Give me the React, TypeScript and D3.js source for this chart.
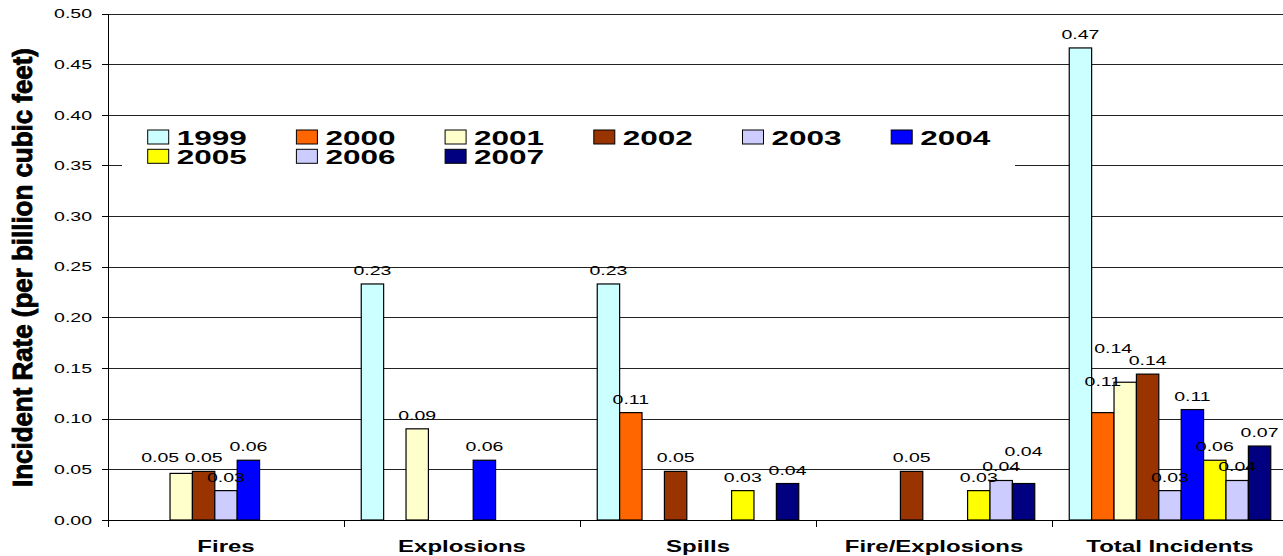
import React from "react";
import * as d3 from "d3";

// Incident categories along the x axis
const categories = ["Fires", "Explosions", "Spills", "Fire/Explosions", "Total Incidents"];

// Reporting years (one bar per year inside each category)
const years = ["1999", "2000", "2001", "2002", "2003", "2004", "2005", "2006", "2007"];

// Incident rate per billion cubic feet, ordered as `categories`; null = no incidents
const rates1999 = [null, 0.233, 0.233, null, 0.466];
const rates2000 = [null, null, 0.106, null, 0.106];
const rates2001 = [0.046, 0.09, null, null, 0.136];
const rates2002 = [0.048, null, 0.048, 0.048, 0.144];
const rates2003 = [0.029, null, null, null, 0.029];
const rates2004 = [0.059, 0.059, null, null, 0.109];
const rates2005 = [null, null, 0.029, 0.029, 0.059];
const rates2006 = [null, null, null, 0.039, 0.039];
const rates2007 = [null, null, 0.036, 0.036, 0.073];

// Y axis tick values
const yTicks = [0, 0.05, 0.1, 0.15, 0.2, 0.25, 0.3, 0.35, 0.4, 0.45, 0.5];

const seriesRates = [
  rates1999, rates2000, rates2001, rates2002, rates2003,
  rates2004, rates2005, rates2006, rates2007,
];

const yearColors = [
  "#CCFFFF", "#FF6600", "#FFFFCC", "#993300", "#CCCCFF",
  "#0000FF", "#FFFF00", "#CCCCFF", "#000080",
];

// Hand-placed data labels that would otherwise collide: [dx, dy]
const labelNudge: Record<string, [number, number]> = {
  "Fires|2001": [-21, -2],
  "Fire/Explosions|2007": [0, -19],
  "Total Incidents|2000": [0, -18],
  "Total Incidents|2001": [-12, -20],
};

const W = 1283;
const H = 556;
const FONT = "'Liberation Sans', Arial, Helvetica, sans-serif";
const SX = 1.5; // horizontal glyph stretch used across the chart's text

const plotLeft = 108;
const plotRight = 1288;
const plotTop = 13.5;
const plotBottom = 520;

export default function App() {
  const x0 = d3.scaleBand<string>().domain(categories).range([plotLeft, plotRight]).padding(0);
  const x1 = d3
    .scaleBand<string>()
    .domain(years)
    .range([0, x0.bandwidth()])
    .paddingInner(0)
    .paddingOuter(0.77);
  const y = d3.scaleLinear().domain([0, 0.5]).range([plotBottom, plotTop]);
  const fmt = d3.format(".2f");

  const crisp = (v: number) => Math.round(v) + 0.5;

  const bars: { cat: string; year: string; value: number; color: string }[] = [];
  years.forEach((yr, si) => {
    categories.forEach((cat, ci) => {
      const v = seriesRates[si][ci];
      if (v != null) bars.push({ cat, year: yr, value: v, color: yearColors[si] });
    });
  });

  // Legend layout
  const legend = { x: 122, y: 119, w: 893, h: 50 };
  const legendCols = 6;
  const legendColStep = 148.7;
  const legendX0 = 147.7;
  const legendRowY = [130, 149.3];

  return (
    <svg
      width={W}
      height={H}
      viewBox={`0 0 ${W} ${H}`}
      style={{ position: "absolute", left: 0, top: 0, background: "#fff" }}
      fontFamily={FONT}
    >
      <rect x={0} y={0} width={W} height={H} fill="#fff" />

      {/* gridlines */}
      <g shapeRendering="crispEdges">
        {yTicks.filter((t) => t > 0).map((t) => (
          <line
            key={t}
            x1={plotLeft}
            x2={plotRight}
            y1={crisp(y(t))}
            y2={crisp(y(t))}
            stroke="#222"
            strokeWidth={1}
          />
        ))}
      </g>

      {/* legend */}
      <rect x={legend.x} y={legend.y} width={legend.w} height={legend.h} fill="#fff" />
      {years.map((yr, i) => {
        const col = i % legendCols;
        const row = Math.floor(i / legendCols);
        const sx = legendX0 + col * legendColStep;
        const sy = legendRowY[row];
        return (
          <g key={yr}>
            <rect
              x={sx}
              y={sy}
              width={21}
              height={14}
              fill={yearColors[i]}
              stroke="#000"
              strokeWidth={1}
            />
            <text
              transform={`translate(${sx + 29},${sy + 15}) scale(${SX},1)`}
              fontSize={21}
              fontWeight="bold"
              fill="#000"
            >
              {yr}
            </text>
          </g>
        );
      })}

      {/* bars */}
      <g>
        {bars.map((b) => {
          const bx = (x0(b.cat) as number) + (x1(b.year) as number);
          const by = y(b.value);
          return (
            <rect
              key={b.cat + b.year}
              x={bx}
              y={by}
              width={x1.bandwidth()}
              height={plotBottom - by}
              fill={b.color}
              stroke="#000"
              strokeWidth={1.2}
            />
          );
        })}
      </g>

      {/* value labels */}
      <g>
        {bars.map((b) => {
          const cx = (x0(b.cat) as number) + (x1(b.year) as number) + x1.bandwidth() / 2;
          const nudge = labelNudge[`${b.cat}|${b.year}`] || [0, 0];
          const ly = y(b.value) - 9;
          return (
            <text
              key={"l" + b.cat + b.year}
              transform={`translate(${cx + nudge[0]},${ly + nudge[1]}) scale(${SX},1)`}
              textAnchor="middle"
              fontSize={13}
              fill="#000"
            >
              {fmt(b.value)}
            </text>
          );
        })}
      </g>

      {/* y axis */}
      <g shapeRendering="crispEdges">
        <line x1={crisp(plotLeft)} x2={crisp(plotLeft)} y1={plotTop} y2={plotBottom + 7} stroke="#000" />
        {yTicks.map((t) => (
          <line
            key={t}
            x1={plotLeft - 6}
            x2={plotLeft}
            y1={crisp(y(t))}
            y2={crisp(y(t))}
            stroke="#000"
          />
        ))}
      </g>
      {yTicks.map((t) => (
        <text
          key={"yt" + t}
          transform={`translate(92,${y(t) + 4.7}) scale(${SX},1)`}
          textAnchor="end"
          fontSize={13}
          fill="#000"
        >
          {fmt(t)}
        </text>
      ))}

      {/* x axis */}
      <g shapeRendering="crispEdges">
        <line x1={plotLeft} x2={plotRight} y1={crisp(plotBottom)} y2={crisp(plotBottom)} stroke="#000" />
        {categories.map((c) => (
          <line
            key={c}
            x1={crisp(x0(c) as number)}
            x2={crisp(x0(c) as number)}
            y1={plotBottom}
            y2={plotBottom + 7}
            stroke="#000"
          />
        ))}
      </g>
      {categories.map((c) => (
        <text
          key={"xl" + c}
          transform={`translate(${(x0(c) as number) + x0.bandwidth() / 2},551.5) scale(${SX},1)`}
          textAnchor="middle"
          fontSize={16}
          fontWeight="bold"
          fill="#000"
        >
          {c}
        </text>
      ))}

      {/* y axis title */}
      <text
        transform={`translate(32,267.5) rotate(-90)`}
        textAnchor="middle"
        fontSize={28}
        fontWeight="bold"
        fill="#000"
        stroke="#000"
        strokeWidth={0.9}
        textLength={439}
        lengthAdjust="spacingAndGlyphs"
      >
        Incident Rate (per billion cubic feet)
      </text>
    </svg>
  );
}
